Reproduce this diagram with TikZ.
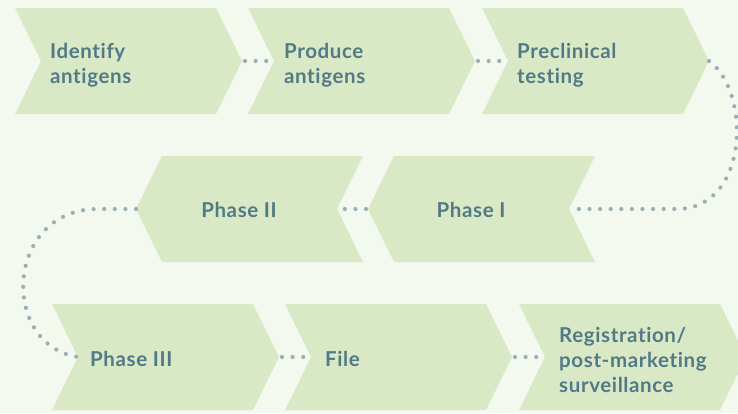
\documentclass[tikz,border=0pt]{standalone}
\usepackage{fontspec}
\setmainfont{Lato}[UprightFont=* Bold, LetterSpace=3, Ligatures=NoCommon]
\definecolor{bgc}{HTML}{F4F9EF}
\definecolor{chevc}{HTML}{D9E9C6}
\definecolor{txtc}{HTML}{527A86}
\definecolor{dotc}{HTML}{9DAFB6}
\tikzset{
  chev/.style={fill=chevc},
  label/.style={text=txtc, font=\fontsize{20.5pt}{25pt}\selectfont, inner sep=0pt, align=left},
  dots/.style={draw=dotc, line width=4.2pt, line cap=round, dash pattern=on 0pt off 10.6pt},
}
% right-pointing chevron: name, left x, top y
\newcommand\chevright[3]{%
  \fill[chev] (#2,#3) -- ++(201,0) -- ++(26,53) -- ++(-26,53) -- ++(-201,0) -- ++(26,-53) -- cycle;
  \coordinate (#1-tip) at (#2+227,#3+53);
  \coordinate (#1-notch) at (#2+26,#3+53);}
% left-pointing chevron: name, left x of top edge, top y
\newcommand\chevleft[3]{%
  \fill[chev] (#2,#3) -- ++(201,0) -- ++(-26,53) -- ++(26,53) -- ++(-201,0) -- ++(-26,-53) -- cycle;
  \coordinate (#1-tip) at (#2-26,#3+53);
  \coordinate (#1-notch) at (#2+175,#3+53);}
\begin{document}
\begin{tikzpicture}[x=1pt,y=-1pt]
\useasboundingbox (0,0) rectangle (738,413);
\clip (0,0) rectangle (738,413);
\fill[bgc] (0,0) rectangle (738,413);

% row 1
\chevright{ident}{15}{8}
\chevright{prod}{248}{8}
\chevright{precl}{482}{8}
% row 2
\chevleft{ph1}{394}{156}
\chevleft{ph2}{162}{156}
% row 3
\chevright{ph3}{52}{304}
\chevright{file}{285}{304}
\chevright{reg}{519}{304}

% labels
\node[label, anchor=west] (tident) at (50,65) {Identify\\antigens};
\node[label, anchor=west] (tprod) at (284,65) {Produce\\antigens};
\node[label, anchor=west] (tprecl) at (517,65) {Preclinical\\testing};
\node[label] (tph1) at (471,210) {Phase I};
\node[label] (tph2) at (239,210) {Phase II};
\node[label, anchor=west] (tph3) at (90,359) {Phase III};
\node[label, anchor=west] (tfile) at (325,359) {File};
\node[label, anchor=west] (treg) at (559,360) {Registration/\\post-marketing\\surveillance};

% connectors
\draw[dots, shorten <=3pt] (ident-tip) -- (prod-notch);
\draw[dots, shorten <=3pt] (prod-tip) -- (precl-notch);
\coordinate (rturn) at (680,209);
\draw[dots] (precl-tip) .. controls (750,90) and (750,205) .. (rturn) -- (ph1-notch);
\draw[dots, shorten <=2pt] (ph1-tip) -- (ph2-notch);
\coordinate (lturn) at (95,209);
\draw[dots] (ph2-tip) -- (lturn) .. controls (5,212) and (0,345) .. (ph3-notch);
\draw[dots, shorten <=3pt] (ph3-tip) -- (file-notch);
\draw[dots, shorten <=3pt] (file-tip) -- (reg-notch);
\end{tikzpicture}
\end{document}
